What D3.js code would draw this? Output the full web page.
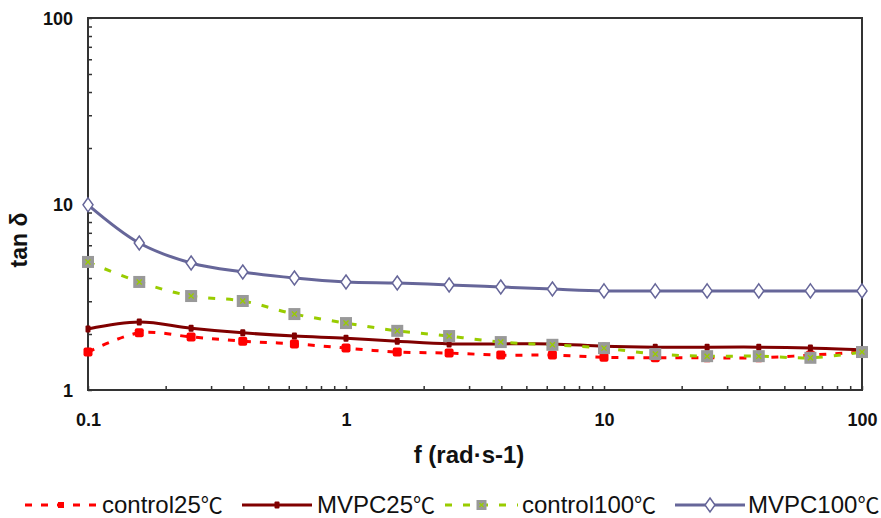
<!DOCTYPE html>
<html>
<head>
<meta charset="utf-8">
<script src="https://cdn.jsdelivr.net/npm/d3@7"></script>
<style>
  html, body { margin: 0; padding: 0; background: #fff; }
  svg { display: block; font-family: "Liberation Sans", Arial, sans-serif; }
</style>
</head>
<body>
<svg id="chart" width="881" height="518"></svg>
<script>
// Angular frequency (rad/s), five points per decade
const freq = [0.1, 0.158, 0.251, 0.398, 0.631, 1, 1.58, 2.51, 3.98, 6.31, 10, 15.8, 25.1, 39.8, 63.1, 100];

// tan δ for each sample
const control25  = [1.60, 2.03, 1.93, 1.83, 1.77, 1.68, 1.60, 1.58, 1.54, 1.54, 1.50, 1.49, 1.49, 1.49, 1.54, 1.60];
const mvpc25     = [2.13, 2.32, 2.15, 2.03, 1.95, 1.90, 1.83, 1.77, 1.77, 1.77, 1.72, 1.70, 1.70, 1.70, 1.68, 1.64];
const control100 = [4.88, 3.81, 3.20, 3.01, 2.56, 2.29, 2.08, 1.95, 1.81, 1.75, 1.68, 1.56, 1.52, 1.52, 1.49, 1.60];
const mvpc100    = [9.90, 6.17, 4.82, 4.31, 4.00, 3.81, 3.76, 3.67, 3.58, 3.49, 3.41, 3.41, 3.41, 3.41, 3.41, 3.41];

const seriesNames = ["control25", "MVPC25", "control100", "MVPC100"];
const unit = "℃";

const xTickLabels = ["0.1", "1", "10", "100"];
const yTickLabels = ["1", "10", "100"];

const svg = d3.select("#chart");
const plotLeft = 88, plotRight = 862, plotTop = 18, plotBottom = 390;

const x = d3.scaleLog().domain([0.1, 100]).range([plotLeft, plotRight]);
const y = d3.scaleLog().domain([1, 100]).range([plotBottom, plotTop]);

// all log ticks (1..9 per decade)
function logTicks(lo, hi) {
  const t = [];
  for (let d = lo; d < hi; d *= 10) for (let k = 1; k < 10; k++) t.push(+(d * k).toPrecision(3));
  t.push(hi);
  return t;
}
const xTicks = logTicks(0.1, 100);
const yTicks = logTicks(1, 100);
const isMajor = v => Math.abs(Math.log10(v) - Math.round(Math.log10(v))) < 1e-6;

const axisColor = "#333";

// plot frame
svg.append("rect")
  .attr("x", plotLeft).attr("y", plotTop)
  .attr("width", plotRight - plotLeft).attr("height", plotBottom - plotTop)
  .attr("fill", "none").attr("stroke", axisColor).attr("stroke-width", 2);

// x axis
const xAxis = svg.append("g").attr("transform", `translate(0,${plotBottom})`)
  .call(d3.axisBottom(x).tickValues(xTicks).tickSizeInner(-4).tickSizeOuter(0)
    .tickFormat(v => isMajor(v) ? xTickLabels[Math.round(Math.log10(v) + 1)] : ""));
xAxis.select(".domain").remove();
xAxis.selectAll(".tick line").attr("stroke", axisColor).attr("stroke-width", 1.5);
xAxis.selectAll(".tick text")
  .attr("y", 30).attr("dy", "0.35em")
  .attr("fill", "#111").style("font-size", "18px").style("font-weight", "bold");

// y axis
const yAxis = svg.append("g").attr("transform", `translate(${plotLeft},0)`)
  .call(d3.axisLeft(y).tickValues(yTicks).tickSizeInner(-4).tickSizeOuter(0)
    .tickFormat(v => isMajor(v) ? yTickLabels[Math.round(Math.log10(v))] : ""));
yAxis.select(".domain").remove();
yAxis.selectAll(".tick line").attr("stroke", axisColor).attr("stroke-width", 1.5);
yAxis.selectAll(".tick text")
  .attr("x", -15).attr("dy", "0.35em")
  .attr("fill", "#111").style("font-size", "18px").style("font-weight", "bold");

// axis titles
svg.append("text")
  .attr("x", 469).attr("y", 463)
  .attr("text-anchor", "middle")
  .attr("fill", "#111").style("font-size", "24px").style("font-weight", "bold")
  .text("f (rad·s-1)");

svg.append("text")
  .attr("transform", "translate(27,240) rotate(-90)")
  .attr("text-anchor", "middle")
  .attr("fill", "#111").style("font-size", "23px").style("font-weight", "bold")
  .text("tan δ");

// series styles
const styles = [
  { values: control25,  color: "#ff0000", dash: "7,9",  width: 3, marker: "square" },
  { values: mvpc25,     color: "#800000", dash: null,   width: 3, marker: "dash" },
  { values: control100, color: "#99cc00", dash: "7,11", width: 3, marker: "graybox" },
  { values: mvpc100,    color: "#666699", dash: null,   width: 3, marker: "diamond" }
];

const line = d3.line().curve(d3.curveCatmullRom.alpha(0.5))
  .x(d => x(d[0])).y(d => y(d[1]));

function drawMarker(g, kind, color, cx, cy) {
  if (kind === "square") {
    g.append("rect").attr("x", cx - 4.5).attr("y", cy - 4.5).attr("width", 9).attr("height", 9)
      .attr("rx", 2).attr("fill", color);
  } else if (kind === "dash") {
    g.append("rect").attr("x", cx - 2.5).attr("y", cy - 3.5).attr("width", 5).attr("height", 7)
      .attr("rx", 1).attr("fill", color);
  } else if (kind === "graybox") {
    g.append("rect").attr("x", cx - 6).attr("y", cy - 6).attr("width", 12).attr("height", 12)
      .attr("fill", "#999999");
    g.append("path").attr("d", `M${cx - 2.5},${cy - 2.5}L${cx + 2.5},${cy + 2.5}M${cx + 2.5},${cy - 2.5}L${cx - 2.5},${cy + 2.5}`)
      .attr("stroke", color).attr("stroke-width", 1.3);
  } else if (kind === "diamond") {
    g.append("path").attr("d", `M${cx},${cy - 7}L${cx + 5},${cy}L${cx},${cy + 7}L${cx - 5},${cy}Z`)
      .attr("fill", "#fff").attr("stroke", color).attr("stroke-width", 1.5);
  }
}

const plot = svg.append("g");
styles.forEach(s => {
  const pts = freq.map((f, i) => [f, s.values[i]]);
  const g = plot.append("g");
  g.append("path").datum(pts)
    .attr("d", line)
    .attr("fill", "none")
    .attr("stroke", s.color)
    .attr("stroke-width", s.width)
    .attr("stroke-dasharray", s.dash);
  pts.forEach(p => drawMarker(g, s.marker, s.color, x(p[0]), y(p[1])));
});

// legend
const legendY = 505;
const legendItems = [
  { x0: 25,  x1: 97,  tx: 102 },
  { x0: 242, x1: 312, tx: 317 },
  { x0: 445, x1: 518, tx: 522 },
  { x0: 675, x1: 745, tx: 748 }
];
legendItems.forEach((it, i) => {
  const s = styles[i];
  const g = svg.append("g");
  g.append("line")
    .attr("x1", it.x0).attr("x2", it.x1).attr("y1", legendY).attr("y2", legendY)
    .attr("stroke", s.color).attr("stroke-width", s.width)
    .attr("stroke-dasharray", s.dash);
  const mx = (it.x0 + it.x1) / 2;
  if (s.marker === "square") {
    g.append("rect").attr("x", mx - 3).attr("y", legendY - 3).attr("width", 6).attr("height", 6).attr("fill", s.color);
  } else if (s.marker === "graybox") {
    g.append("rect").attr("x", mx - 5).attr("y", legendY - 5).attr("width", 10).attr("height", 10).attr("fill", "#999999");
    g.append("path").attr("d", `M${mx - 2},${legendY - 2}L${mx + 2},${legendY + 2}M${mx + 2},${legendY - 2}L${mx - 2},${legendY + 2}`)
      .attr("stroke", s.color).attr("stroke-width", 1.2);
  } else {
    drawMarker(g, s.marker, s.color, mx, legendY);
  }
  const t = g.append("text")
    .attr("x", it.tx).attr("y", legendY).attr("dy", "0.35em")
    .attr("fill", "#111").style("font-size", "24px");
  t.append("tspan").text(seriesNames[i]);
  t.append("tspan")
    .style("font-family", '"Noto Sans CJK SC", sans-serif')
    .style("font-size", "22px")
    .text(unit);
});
</script>
</body>
</html>
